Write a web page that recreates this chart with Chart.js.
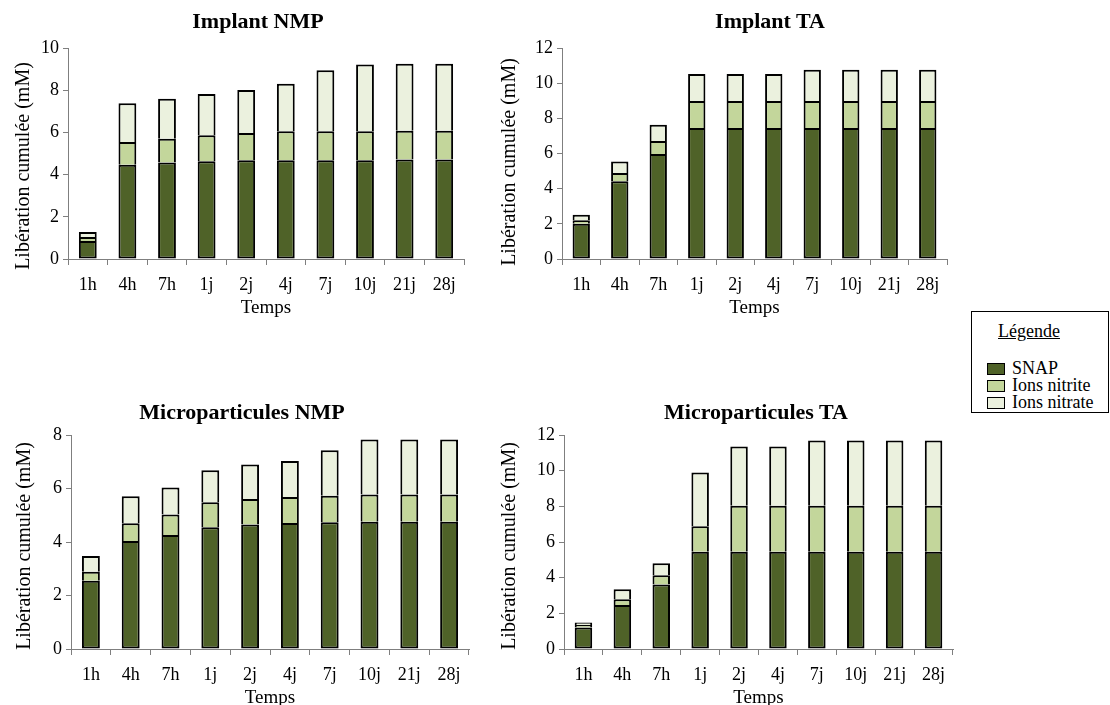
<!DOCTYPE html>
<html>
<head>
<meta charset="utf-8">
<script src="https://cdn.jsdelivr.net/npm/chart.js@4.4.0/dist/chart.umd.min.js"></script>
<style>
  html, body { margin: 0; padding: 0; background: #fff; }
  body { width: 1110px; height: 705px; position: relative; overflow: hidden; font-family: 'Liberation Serif', 'Times New Roman', serif; color: #000; }
  canvas { position: absolute; }
  .ctitle { position: absolute; transform: translate(-50%, -50%); font-size: 22px; font-weight: bold; line-height: 1; white-space: nowrap; }
  .ytitle { position: absolute; transform: translate(-50%, -50%) rotate(-90deg); font-size: 20px; line-height: 1; white-space: nowrap; }
  #legend { position: absolute; left: 971px; top: 311px; width: 136px; height: 100px; border: 1px solid #000; background: #fff; z-index: 5; font-size: 18px; color: #000; }
  #legend .ttl { position: absolute; left: 26px; top: 9px; text-decoration: underline; }
  #legend .row { position: absolute; left: 15px; height: 18px; line-height: 18px; white-space: nowrap; }
  #legend .sw { display: inline-block; width: 16px; height: 10px; border: 1px solid #000; vertical-align: middle; margin-right: 7px; position: relative; top: -1px; }
</style>
</head>
<body>
<canvas id="c1" width="480" height="320" style="left:0px;top:0px"></canvas>
<canvas id="c2" width="470" height="320" style="left:490px;top:0px"></canvas>
<canvas id="c3" width="484" height="330" style="left:0px;top:380px"></canvas>
<canvas id="c4" width="480" height="330" style="left:490px;top:380px"></canvas>

<div class="ctitle" style="left:258px;top:21px">Implant NMP</div>
<div class="ctitle" style="left:770px;top:21px">Implant TA</div>
<div class="ctitle" style="left:242px;top:412px">Microparticules NMP</div>
<div class="ctitle" style="left:756px;top:412px">Microparticules TA</div>

<div class="ytitle" style="left:22px;top:166px">Libération cumulée (mM)</div>
<div class="ytitle" style="left:508px;top:162px">Libération cumulée (mM)</div>
<div class="ytitle" style="left:23px;top:546px">Libération cumulée (mM)</div>
<div class="ytitle" style="left:508px;top:546px">Libération cumulée (mM)</div>

<div id="legend">
  <div class="ttl">Légende</div>
  <div class="row" style="top:47px"><span class="sw" style="background:#4f6228"></span>SNAP</div>
  <div class="row" style="top:64px"><span class="sw" style="background:#c3d69b"></span>Ions nitrite</div>
  <div class="row" style="top:81px"><span class="sw" style="background:#ebf1de"></span>Ions nitrate</div>
</div>
<script>
// Categories (time points)
const categories = ['1h', '4h', '7h', '1j', '2j', '4j', '7j', '10j', '21j', '28j'];
const seriesNames = ['SNAP', 'Ions nitrite', 'Ions nitrate'];

// Implant NMP (segment values, mM)
const implantNMP_SNAP    = [0.85, 4.47, 4.57, 4.63, 4.68, 4.68, 4.68, 4.68, 4.72, 4.72];
const implantNMP_nitrite = [0.19, 1.08, 1.13, 1.23, 1.29, 1.37, 1.37, 1.37, 1.36, 1.36];
const implantNMP_nitrate = [0.24, 1.83, 1.90, 1.96, 2.04, 2.26, 2.89, 3.17, 3.17, 3.17];

// Implant TA
const implantTA_SNAP    = [2.01, 4.42, 5.97, 7.45, 7.45, 7.45, 7.45, 7.45, 7.45, 7.45];
const implantTA_nitrite = [0.19, 0.47, 0.74, 1.54, 1.54, 1.54, 1.54, 1.54, 1.54, 1.54];
const implantTA_nitrate = [0.32, 0.66, 0.93, 1.53, 1.53, 1.53, 1.78, 1.78, 1.78, 1.78];

// Microparticules NMP
const microNMP_SNAP    = [2.55, 4.04, 4.26, 4.55, 4.65, 4.71, 4.74, 4.76, 4.76, 4.76];
const microNMP_nitrite = [0.34, 0.66, 0.77, 0.94, 0.96, 0.97, 0.99, 1.02, 1.02, 1.02];
const microNMP_nitrate = [0.59, 1.01, 1.01, 1.19, 1.29, 1.35, 1.70, 2.05, 2.05, 2.05];

// Microparticules TA
const microTA_SNAP    = [1.20, 2.47, 3.61, 5.45, 5.45, 5.45, 5.45, 5.45, 5.45, 5.45];
const microTA_nitrite = [0.15, 0.32, 0.53, 1.44, 2.58, 2.58, 2.58, 2.58, 2.58, 2.58];
const microTA_nitrate = [0.13, 0.56, 0.67, 3.01, 3.32, 3.32, 3.66, 3.66, 3.66, 3.66];

// Axis maxima
const yMaxNMP = 10, yMaxTA = 12, yMaxMicroNMP = 8, yMaxMicroTA = 12;

const colors = ['#4f6228', '#c3d69b', '#ebf1de'];
const axisColor = '#7f7f7f';
const FONT = "'Liberation Serif', 'Times New Roman', serif";

function makeChart(id, dataArrs, yMax, cfg) {
  const datasets = dataArrs.map((d, i) => ({
    label: seriesNames[i],
    data: d,
    backgroundColor: colors[i],
    borderColor: '#000',
    borderWidth: 2,
    borderSkipped: i === 0 ? false : 'start',
    categoryPercentage: 1.0,
    barPercentage: 0.45
  }));
  return new Chart(document.getElementById(id), {
    type: 'bar',
    data: { labels: categories, datasets },
    options: {
      responsive: false,
      animation: false,
      devicePixelRatio: 1,
      layout: { padding: { left: 0, right: cfg.padRight, top: cfg.padTop, bottom: 0 } },
      plugins: {
        legend: { display: false },
        tooltip: { enabled: false },
        title: { display: false }
      },
      scales: {
        x: {
          stacked: true,
          grid: { display: true, drawOnChartArea: false, drawTicks: true, tickLength: 6, color: axisColor, offset: true },
          border: { display: true, color: axisColor, width: 1 },
          ticks: { color: '#000', font: { family: FONT, size: 18 }, padding: 9, maxRotation: 0, autoSkip: false },
          title: { display: true, text: 'Temps', color: '#000', font: { family: FONT, size: 19, lineHeight: 1.2 }, padding: { top: 0, bottom: 1 } },
          afterFit: (s) => { s.height = 61; }
        },
        y: {
          stacked: true,
          min: 0,
          max: yMax,
          grid: { display: true, drawOnChartArea: false, drawTicks: true, tickLength: 5, color: axisColor },
          border: { display: true, color: axisColor, width: 1 },
          ticks: { stepSize: 2, color: '#000', font: { family: FONT, size: 18 }, padding: 4 },
          afterFit: (s) => { s.width = cfg.yW; }
        }
      }
    }
  });
}

makeChart('c1', [implantNMP_SNAP, implantNMP_nitrite, implantNMP_nitrate], yMaxNMP,
  { padRight: 16, padTop: 48, yW: 68 });
makeChart('c2', [implantTA_SNAP, implantTA_nitrite, implantTA_nitrate], yMaxTA,
  { padRight: 13, padTop: 48, yW: 72 });
makeChart('c3', [microNMP_SNAP, microNMP_nitrite, microNMP_nitrate], yMaxMicroNMP,
  { padRight: 15, padTop: 55, yW: 71 });
makeChart('c4', [microTA_SNAP, microTA_nitrite, microTA_nitrate], yMaxMicroTA,
  { padRight: 17, padTop: 55, yW: 74 });
</script>
</body>
</html>
